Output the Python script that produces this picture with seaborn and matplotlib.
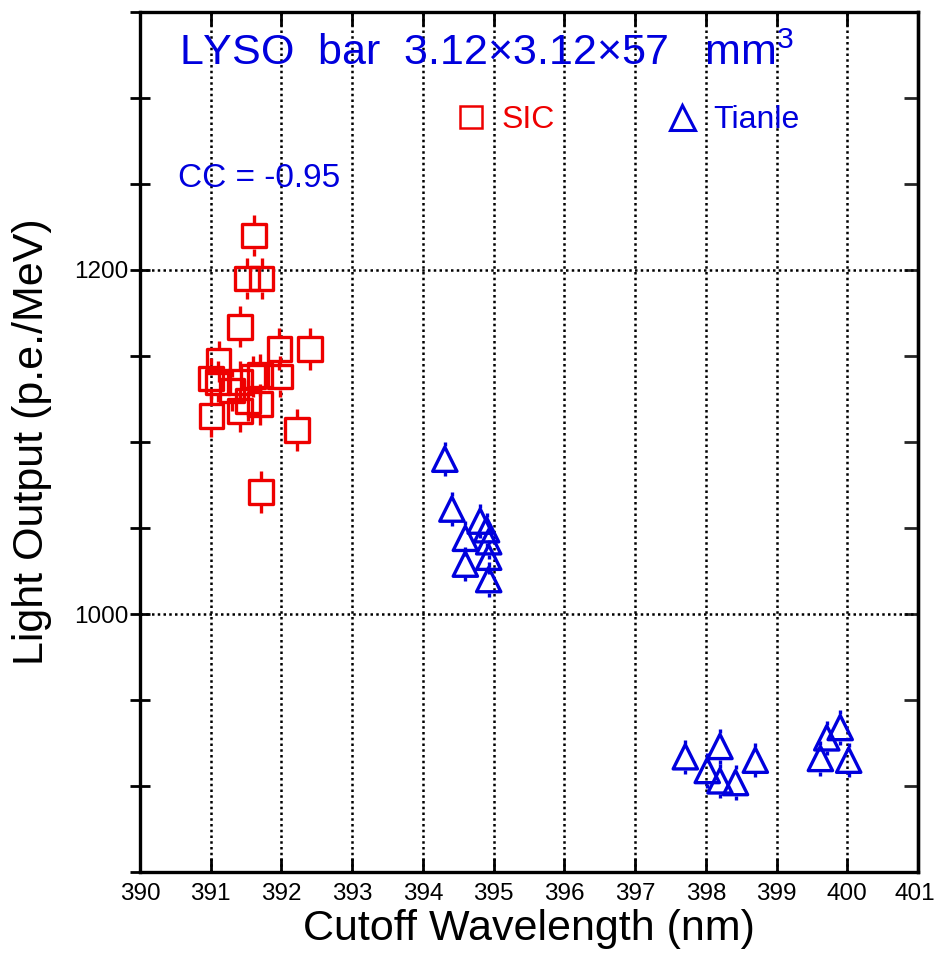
import numpy as np
import pandas as pd
import matplotlib
matplotlib.use("Agg")
import matplotlib.pyplot as plt
from matplotlib.ticker import MultipleLocator
from matplotlib.lines import Line2D
from matplotlib.transforms import ScaledTranslation
import seaborn as sns

# ---------------- data ----------------
sic_wavelength = [391.61, 391.51, 391.72, 391.41, 391.97, 392.40, 391.11, 391.00,
                  391.10, 391.41, 391.60, 391.70, 391.98, 391.01, 391.41, 391.53,
                  391.70, 392.22, 391.71, 391.30]
sic_lo = [1220, 1195, 1195, 1167, 1154, 1154, 1147, 1137,
          1135, 1135, 1138, 1139, 1138, 1115, 1118, 1124,
          1122, 1107, 1071, 1130]
sic_err = [12] * len(sic_lo)

tianle_wavelength = [394.31, 394.41, 394.81, 394.90, 394.60, 394.93, 394.93, 394.60,
                     394.93, 397.71, 398.20, 398.02, 398.20, 398.42, 398.70, 399.62,
                     399.71, 399.90, 400.02]
tianle_lo = [1090, 1061, 1054, 1049, 1044, 1042, 1033, 1029,
             1020, 917, 923, 909, 903, 902, 915, 916,
             928, 934, 915]
tianle_err = [10] * len(tianle_lo)

x_ticks = list(range(390, 402))

# ---------------- style ----------------
sns.set_theme(style="ticks")
plt.rcParams["font.family"] = ["Liberation Sans", "DejaVu Sans"]
plt.rcParams["mathtext.fontset"] = "custom"
plt.rcParams["mathtext.rm"] = "Liberation Sans"
plt.rcParams["mathtext.it"] = "Liberation Sans"

RED = "#ee0000"
BLUE = "#0000dd"
MARKER_HALF = 7.6   # half marker height in data units (gap for error bars)

fig = plt.figure(figsize=(9.36, 9.63), dpi=100)
ax = fig.add_axes([140 / 936, 1 - 872 / 963, (918 - 140) / 936, (872 - 12) / 963])

sic = pd.DataFrame({"wl": sic_wavelength, "lo": sic_lo, "err": sic_err})
tia = pd.DataFrame({"wl": tianle_wavelength, "lo": tianle_lo, "err": tianle_err})

# error bars (drawn outside the hollow markers)
for df, col in [(sic, RED), (tia, BLUE)]:
    ax.vlines(df["wl"], df["lo"] + MARKER_HALF, df["lo"] + df["err"], color=col, lw=2.4, zorder=3)
    ax.vlines(df["wl"], df["lo"] - df["err"], df["lo"] - MARKER_HALF, color=col, lw=2.4, zorder=3)

sns.scatterplot(data=sic, x="wl", y="lo", marker="s", s=17 ** 2, facecolor="none",
                edgecolor=RED, linewidth=2.4, zorder=4, ax=ax)
sns.scatterplot(data=tia, x="wl", y="lo", marker="^", s=17.5 ** 2, facecolor="none",
                edgecolor=BLUE, linewidth=2.4, zorder=4, ax=ax)

ax.set_xlim(390, 401)
ax.set_ylim(850, 1350)
ax.set_xticks(x_ticks)
ax.set_xticklabels([str(v) for v in x_ticks])
ax.yaxis.set_major_locator(MultipleLocator(200))
ax.yaxis.set_minor_locator(MultipleLocator(50))

ax.grid(True, which="major", color="black", linestyle=(0, (1, 1.3)), linewidth=1.8)
ax.set_axisbelow(True)

for s in ax.spines.values():
    s.set_linewidth(2.4)
    s.set_color("black")

ax.tick_params(axis="x", which="major", direction="in", length=10, width=2,
               top=True, bottom=True, labelsize=17.5, pad=8, colors="black")
ax.tick_params(axis="y", which="both", direction="inout", length=15, width=2,
               left=True, right=False, labelsize=17.5, pad=1, colors="black")
# keep the last x label inside the figure, as in the reference
last = ax.get_xticklabels()[-1]
last.set_transform(last.get_transform() + ScaledTranslation(-3 / 100, 0, fig.dpi_scale_trans))

# right side ticks (inward) via secondary axis
ay = ax.secondary_yaxis("right")
ay.yaxis.set_major_locator(MultipleLocator(50))
ay.tick_params(direction="in", length=10, width=2, labelright=False)
ay.spines["right"].set_linewidth(2.4)

ax.set_xlabel("Cutoff Wavelength (nm)", fontsize=31, labelpad=3, color="black")
ax.set_ylabel("Light Output (p.e./MeV)", fontsize=31, labelpad=16, color="black")

fig.text(179 / 936, 1 - 65 / 963, r"LYSO  bar  3.12×3.12×57   mm$^{\mathrm{3}}$",
         fontsize=31, color=BLUE, va="baseline", ha="left")
fig.text(178 / 936, 1 - 187 / 963, "CC = -0.95", fontsize=24, color=BLUE,
         va="baseline", ha="left")

handles = [Line2D([], [], marker="s", ls="none", ms=16, mfc="none", mec=RED, mew=1.8),
           Line2D([], [], marker="^", ls="none", ms=18, mfc="none", mec=BLUE, mew=2.2)]
leg = ax.legend(handles, ["SIC", "Tianle"], ncol=2, frameon=False, fontsize=23,
                labelcolor=[RED, BLUE], loc="center left",
                bbox_to_anchor=(455 / 936, 1 - 120 / 963), bbox_transform=fig.transFigure,
                borderpad=0, borderaxespad=0, handlelength=1.0, handletextpad=0.45,
                columnspacing=3.5)

fig.savefig("out.png", dpi=100)
